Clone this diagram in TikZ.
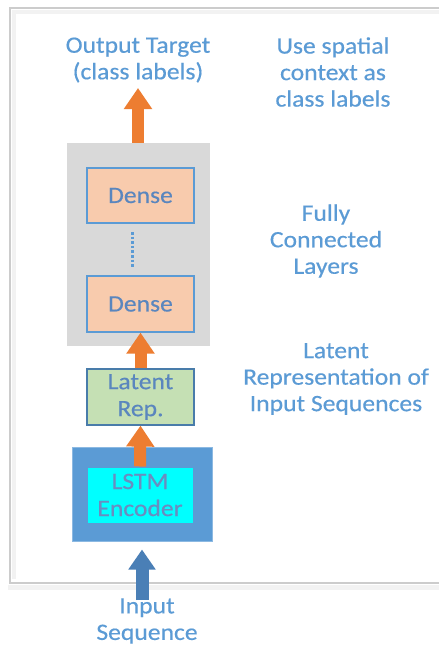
\documentclass[tikz,border=0pt]{standalone}
\usepackage{fontspec}
\setmainfont{Carlito}[FakeStretch=1.09, FakeBold=0.4]
\usetikzlibrary{arrows.meta}

\definecolor{labelblue}{HTML}{5B9BD5}
\definecolor{boxtext}{HTML}{5A86BE}
\definecolor{edgeblue}{HTML}{5B9BD5}
\definecolor{flowor}{HTML}{ED7D31}
\definecolor{inblue}{HTML}{4A7FB6}
\definecolor{panelgray}{HTML}{D9D9D9}
\definecolor{densefill}{HTML}{F8CBAD}
\definecolor{latfill}{HTML}{C5E0B4}
\definecolor{encouter}{HTML}{5B9BD5}
\definecolor{encinner}{HTML}{00FFFF}
\definecolor{enctext}{HTML}{6A8CC0}

\tikzset{
  note/.style={text=labelblue, align=center, font=\fontsize{23.5}{26.5}\selectfont, inner sep=0pt},
  layerbox/.style={draw=edgeblue, line width=1.2pt, text=boxtext, align=center,
    font=\fontsize{23.5}{27}\selectfont, inner sep=0pt},
  flow/.style={flowor, line width=12pt, -{Triangle[width=27pt,length=21pt]}},
  inflow/.style={inblue, line width=13pt, -{Triangle[width=26pt,length=20pt]}}
}

\begin{document}
\begin{tikzpicture}[x=1pt,y=-1pt]
  \useasboundingbox (0,0) rectangle (439,649);
  \fill[white] (0,0) rectangle (439,649);

  % framed panel with soft inner shading
  \draw[gray!10, line width=4pt] (445,12) -- (14,12) -- (14,579);
  \draw[gray!10, line width=5pt] (8,587) -- (445,587);
  \draw[gray!40, line width=1.6pt] (445,8) -- (10,8) -- (10,583) -- (445,583);

  % fully connected block
  \node[draw=gray!30, fill=panelgray, line width=1pt, minimum width=142pt, minimum height=202pt] (fc) at (138.5,244) {};
  \node[layerbox, fill=densefill, minimum width=107pt, minimum height=55pt] (d1) at (140.5,195.5) {Dense};
  \node[layerbox, fill=densefill, minimum width=107pt, minimum height=56pt] (d2) at (140.5,304) {Dense};
  \coordinate (dt) at (132,232);
  \coordinate (db) at (132,267);
  \draw[edgeblue, line width=3pt, dash pattern=on 2.6pt off 2pt] (dt) -- (db);

  % latent representation
  \node[layerbox, fill=latfill, draw=edgeblue!80!black, minimum width=107pt, minimum height=56pt] (lat) at (140.5,397) {Latent\\Rep.};

  % encoder
  \node[draw=edgeblue!70, fill=encouter, line width=1pt, minimum width=140pt, minimum height=94pt] (lstm) at (142,494) {};
  \node[draw=edgeblue, fill=encinner, line width=1pt, text=enctext, align=center,
    font=\fontsize{23.5}{27}\selectfont, inner sep=0pt, minimum width=106pt, minimum height=56pt] (enc) at (140,495) {LSTM\\Encoder};

  % labels
  \node[note] (outlbl) at (138,60) {Output Target\\(class labels)};
  \node[note] (uselbl) at (333,72) {Use spatial\\context as\\class labels};
  \node[note] (fclbl) at (326,241) {Fully\\Connected\\Layers};
  \node[note] (latlbl) at (336,379) {Latent\\Representation of\\Input Sequences};
  \node[note] (inlbl) at (147,621) {Input\\Sequence};

  % data flow
  \coordinate (outtip) at (138,88);
  \coordinate (intail) at (142,600);
  \draw[flow] (fc.north -| outtip) -- (outtip);
  \draw[flow] (lat.north) -- (d2.south);
  \draw[flow] (enc.north) -- (lat.south);
  \draw[inflow, shorten >=8pt] (intail) -- (lstm.south);
\end{tikzpicture}
\end{document}
